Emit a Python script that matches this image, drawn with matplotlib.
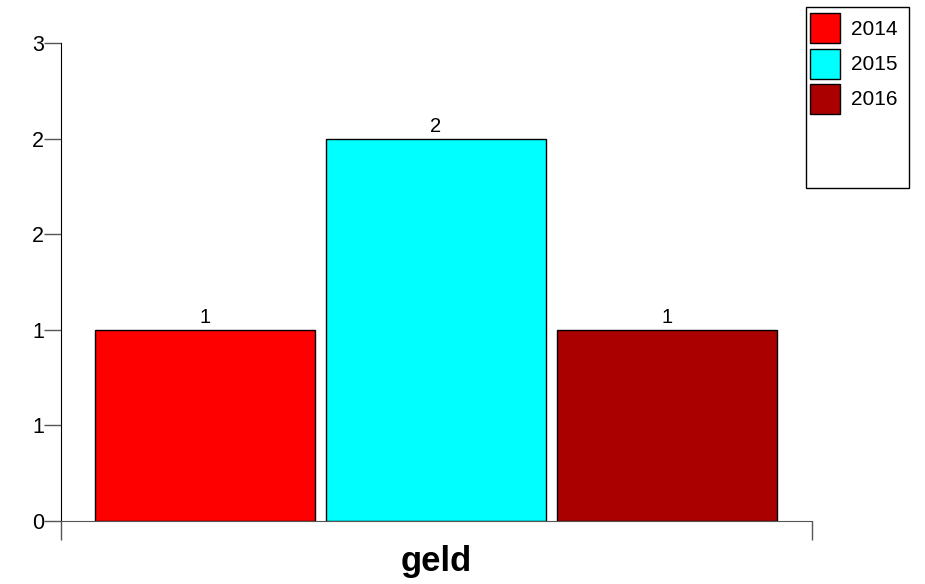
import matplotlib.pyplot as plt
from matplotlib.legend_handler import HandlerPatch
from matplotlib.patches import Rectangle

plt.rcParams["font.family"] = ["Liberation Sans", "DejaVu Sans"]

years = ["2014", "2015", "2016"]
values = [1, 2, 1]
colors = ["#ff0000", "#00ffff", "#aa0000"]
ytick_vals = [0, 0.5, 1, 1.5, 2, 2.5]
ytick_labels = ["0", "1", "1", "2", "2", "3"]
xlabel = "geld"

fig = plt.figure(figsize=(9.25, 5.84), dpi=100)
ax = fig.add_axes([61 / 925, 63 / 584, 751 / 925, 478 / 584])

x = list(range(len(values)))
bars = ax.bar(x, values, width=0.952, color=colors, edgecolor="black",
              linewidth=1.0, label=years)
for b, v in zip(bars, values):
    ax.text(b.get_x() + b.get_width() / 2, v + 0.015, str(v),
            ha="center", va="bottom", fontsize=14.5)

ax.set_ylim(0, 2.5)
ax.set_xlim(-0.623, 2.628)
ax.set_yticks(ytick_vals)
ax.set_yticklabels(ytick_labels, fontsize=15.5)
ax.set_xticks([-0.623, 2.628])
ax.set_xticklabels(["", ""])
ax.tick_params(axis="y", direction="out", length=12, width=1, color="#555555", pad=0)
ax.tick_params(axis="x", direction="out", length=14, width=1, color="#555555")
for s in ["top", "right"]:
    ax.spines[s].set_visible(False)
ax.spines["left"].set_color("black")
ax.spines["bottom"].set_color("#555555")
ax.set_xlabel(xlabel, fontsize=25, fontweight="bold", labelpad=0)


# square legend swatches, ~30 px, a little lower than the row centre
def square(legend, orig_handle, xdescent, ydescent, width, height, fontsize):
    side = 21.6
    mid = (height - ydescent) / 2
    return Rectangle((-xdescent, mid - side / 2 - 2.9), side, side)


handles = [bars[i] for i in range(len(years))]
leg = fig.legend(handles, years, loc="upper left",
                 bbox_to_anchor=(810 / 925, 1 - 14 / 584), frameon=False,
                 fontsize=15, handlelength=1.44, handleheight=1.68,
                 labelspacing=0.36, handletextpad=0.53, borderaxespad=0,
                 borderpad=0,
                 handler_map={type(bars[0]): HandlerPatch(patch_func=square)})
fig.patches.append(Rectangle((806 / 925, 1 - 188 / 584), 103 / 925, 181 / 584,
                             transform=fig.transFigure, fill=False,
                             edgecolor="black", linewidth=1))

fig.savefig("out.png", dpi=100)
